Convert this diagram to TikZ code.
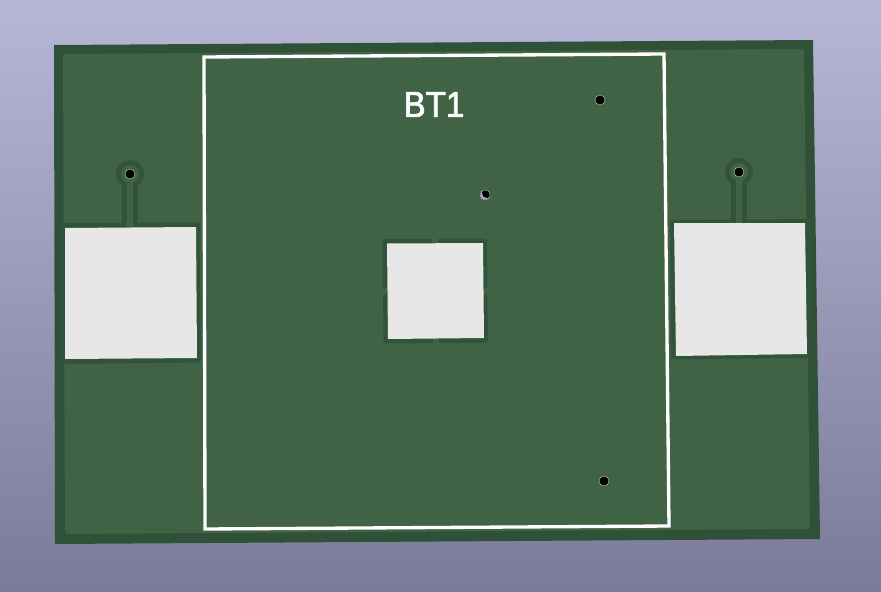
\documentclass[tikz,border=0pt]{standalone}
\usepackage{fontspec}
\setmainfont[FakeBold=2]{Liberation Sans}
\definecolor{skytop}{HTML}{B6B6D6}
\definecolor{skybot}{HTML}{7B7B99}
\definecolor{maskdark}{HTML}{2F5138}
\definecolor{maskmid}{HTML}{31533A}
\definecolor{masklight}{HTML}{416345}
\definecolor{padgray}{HTML}{E7E7E7}
\definecolor{holerim}{HTML}{D8D8A8}
\definecolor{holegap}{HTML}{A8A8C8}
\tikzset{
  copper/.style={fill=masklight, rounded corners=2},
  clearance/.style={fill=maskmid, rounded corners=2},
  padface/.style={fill=padgray},
  outline/.style={draw=white, line width=2.5pt, line join=miter},
  hole/.style={fill=black, draw=holerim, line width=0.3pt},
}
\begin{document}
\begin{tikzpicture}[x=0.75pt, y=-0.75pt]
  \useasboundingbox (0,0) rectangle (881,592);
  % Background and board.
  \shade[top color=skytop, bottom color=skybot] (0,0) rectangle (881,592);
  \fill[maskdark] (54,45) -- (813,40) -- (820,539) -- (55,544) -- cycle;
  \fill[copper] (63,54) -- (804,49) -- (810,529) -- (65,534) -- cycle;
  % Clearance of the two side pads.
  \fill[clearance] (60,223) -- (200,222.5) -- (201,362.5) -- (60,364) -- cycle;
  \fill[clearance] (670,220) -- (812,219) -- (814,358) -- (671,359.5) -- cycle;
  % Vias with their traces down to the pads.
  \foreach \vx/\vy/\py in {130/174/228, 739/172/224} {
    \fill[maskmid] (\vx,\vy) circle (14);
    \fill[maskmid] (\vx-8,\vy) rectangle (\vx+8,\py);
    \fill[masklight] (\vx,\vy) circle (9);
    \fill[masklight] (\vx-3,\vy) rectangle (\vx+3,\py);
  }
  % Center pad with its four spokes.
  \fill[clearance] (382.5,239) -- (487,238.5) -- (488,343) -- (383.5,343.5) -- cycle;
  \fill[masklight] (432,237) rectangle (438,245);
  \fill[masklight] (433,337) rectangle (439,345);
  \fill[masklight] (381,288) rectangle (389,294);
  \fill[masklight] (482,288) rectangle (489,294);
  % Pads.
  \fill[padface] (65,228) -- (196,227) -- (197,358) -- (65,359) -- cycle;
  \fill[padface] (674,223) -- (805,223) -- (807,354) -- (676,356) -- cycle;
  \fill[padface] (387,243.5) -- (483,243) -- (484,338) -- (388,339) -- cycle;
  % Battery outline and its reference.
  \draw[outline] (204,57) -- (664,54) -- (669,526) -- (205,529) -- cycle;
  \node[text=white, font=\fontsize{27}{27}\selectfont, xscale=0.92, inner sep=0] (bt) at (434,104.5) {BT1};
  % Drill holes.
  \foreach \hx/\hy in {130/174, 739/172, 600/100, 604/481, 485/195} {
    \filldraw[hole] (\hx,\hy) circle (5);
  }
  \begin{scope}
    \clip (485,195) circle (4.7);
    \fill[holegap] (480,190) rectangle (490,200);
    \fill[black] (487,193) circle (5);
  \end{scope}
\end{tikzpicture}
\end{document}
